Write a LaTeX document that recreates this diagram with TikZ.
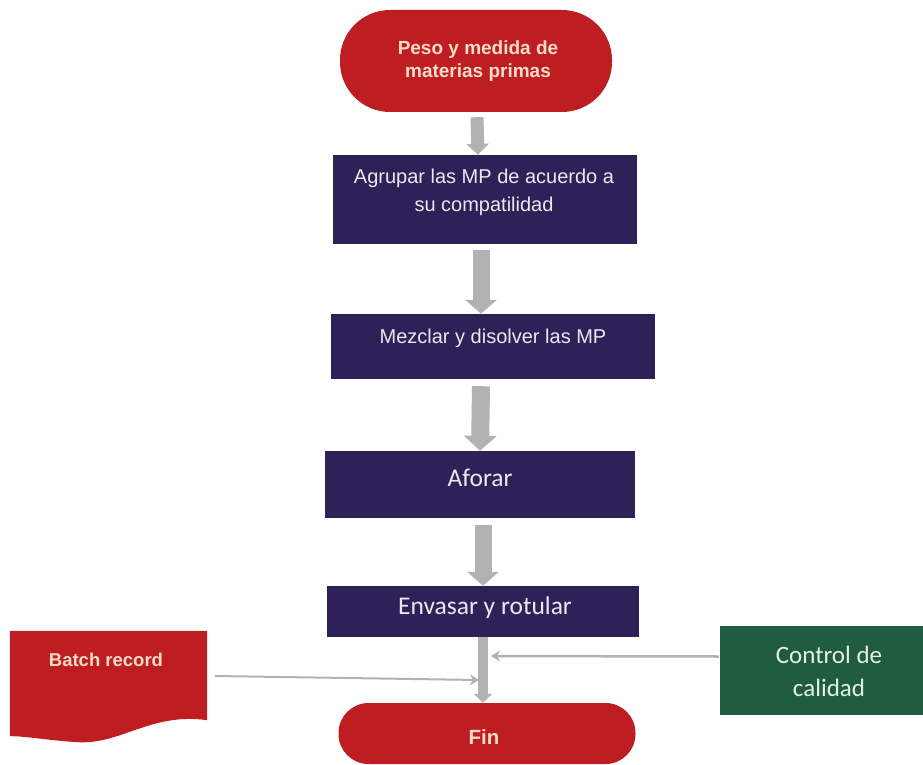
\documentclass[tikz,border=0pt]{standalone}
\usepackage{fontspec}
\setmainfont{Liberation Sans}
\newfontfamily\calibrifont{Carlito}
\usetikzlibrary{arrows.meta,positioning,calc}

\definecolor{flowred}{HTML}{BE1E22}
\definecolor{flowpurple}{HTML}{2E2157}
\definecolor{flowgreen}{HTML}{1F5C40}
\definecolor{flowgray}{HTML}{B2B2B2}
\definecolor{redtext}{HTML}{F8DCC8}
\definecolor{boxtext}{HTML}{ECE8F2}
\definecolor{greentext}{HTML}{E4EFE8}

\tikzset{
  terminal/.style={fill=flowred, rounded corners=#1, inner sep=0pt},
  procbox/.style={fill=flowpurple, inner sep=0pt},
  qcbox/.style={fill=flowgreen, inner sep=0pt},
  redlbl/.style={text=redtext, font=\fontsize{19}{23}\selectfont\bfseries, align=center},
  arlbl/.style={text=boxtext, font=\fontsize{20}{28}\selectfont, align=center},
  calbl/.style={text=boxtext, font=\calibrifont\fontsize{25.5}{30}\selectfont, align=center},
  greenlbl/.style={text=greentext, font=\calibrifont\fontsize{25}{33}\selectfont, align=center},
  flowarrow/.style={draw=flowgray, line width=#1},
  sidearrow/.style={draw=flowgray, line width=2.5pt, -{Stealth[width=11pt,length=9pt]}}
}

\begin{document}
\begin{tikzpicture}[x=1pt,y=-1pt]
\useasboundingbox (0,0) rectangle (923,765);

% main column of steps
\node[terminal=50pt, minimum width=272pt, minimum height=102pt] (start) at (476,61) {};
\node[redlbl] at (478,61) {Peso y medida de\\materias primas};

\node[procbox, minimum width=304pt, minimum height=89pt] (group) at (485,199.5) {};
\node[arlbl] at (484,192) {Agrupar las MP de acuerdo a\\su compatilidad};

\node[procbox, minimum width=324pt, minimum height=65pt] (mix) at (493,346.5) {};
\node[arlbl] at (493,338) {Mezclar y disolver las MP};

\node[procbox, minimum width=310pt, minimum height=67pt] (gauge) at (480,484.5) {};
\node[calbl] at (480,478) {Aforar};

\node[procbox, minimum width=312pt, minimum height=51pt] (fill) at (483,611.5) {};
\node[calbl] at (485,608) {Envasar y rotular};

\node[terminal=30pt, minimum width=297pt, minimum height=61pt] (end) at (487,733.5) {};
\node[redlbl, font=\fontsize{20.5}{24}\selectfont\bfseries] at (484,737) {Fin};

% side documents
\node[inner sep=0pt, minimum width=197pt, minimum height=110pt] (batch) at (108.5,686) {};
\fill[flowred] (batch.north west) -- (batch.north east) -- ([yshift=21pt]batch.south east)
  .. controls (150,712) and (120,746) .. (75,742)
  .. controls (45,740) and (25,736) .. ([yshift=5pt]batch.south west) -- cycle;
\node[redlbl, font=\fontsize{18.5}{22}\selectfont\bfseries] at (106,660) {Batch record};

\node[qcbox, minimum width=204pt, minimum height=89pt] (qc) at (822,670.5) {};
\node[greenlbl] at (829,671) {Control de\\calidad};

% block arrows between steps
\draw[flowarrow=13pt, -{Triangle[width=22pt,length=11pt]}] ([xshift=1pt,yshift=-5pt]start.south) -- ([xshift=-7pt]group.north);
\draw[flowarrow=17pt, -{Triangle[width=31pt,length=14pt]}] ([xshift=-4pt,yshift=-6pt]group.south) -- ([xshift=-12pt]mix.north);
\draw[flowarrow=18pt, -{Triangle[width=32pt,length=15pt]}] ([xshift=-12pt,yshift=-7pt]mix.south) -- ([xshift=0pt]gauge.north);
\draw[flowarrow=17pt, -{Triangle[width=31pt,length=14pt]}] ([xshift=3pt,yshift=-7pt]gauge.south) -- ([xshift=0pt]fill.north);
\draw[flowarrow=10pt, -{Triangle[width=18pt,length=9pt]}] ([xshift=0pt]fill.south) -- ([xshift=-4pt]end.north);

% feeds into the last arrow
\coordinate (qcin) at (491,656);
\coordinate (batchin) at (479,680);
\draw[sidearrow] ([xshift=-1pt,yshift=14pt]qc.west) -- (qcin);
\draw[sidearrow, line width=2pt] ([xshift=8pt,yshift=10pt]batch.east) -- (batchin);
\end{tikzpicture}
\end{document}
